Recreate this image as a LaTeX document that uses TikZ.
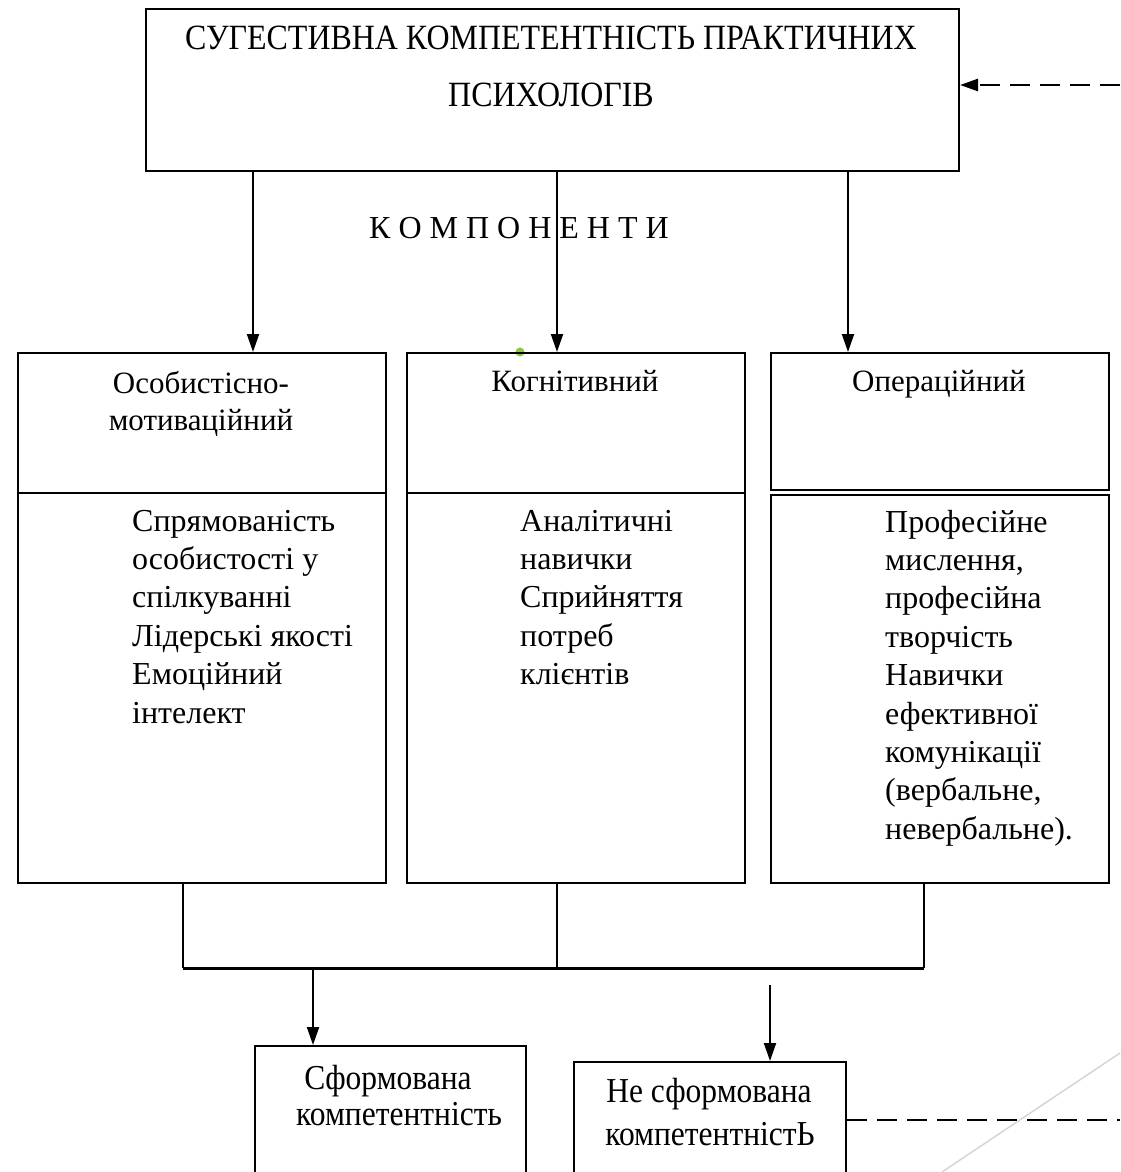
\documentclass[tikz,border=0pt]{standalone}
\usepackage{fontspec}
\setmainfont{Liberation Serif}
\newfontfamily\condfont[FakeStretch=0.9]{Liberation Serif}
\usetikzlibrary{arrows.meta}
\definecolor{dotgreen}{HTML}{8DC63F}
\definecolor{diag}{HTML}{D3D3D3}
\begin{document}
\begin{tikzpicture}[x=1pt,y=-1pt,
  box/.style={draw, line width=2pt, inner sep=0pt, anchor=north west},
  conn/.style={line width=2pt},
  bus/.style={line width=3pt},
  tip/.style={-{Triangle[length=18pt,width=12pt]}},
  arr/.style={line width=2pt, tip},
  dsh/.style={line width=2.6pt, dash pattern=on 20pt off 10pt},
  bodytxt/.style={font=\fontsize{32}{38.4}\selectfont, inner sep=0pt, anchor=base west},
  headtxt/.style={font=\fontsize{31}{37}\selectfont, inner sep=0pt, anchor=base},
  titletxt/.style={font=\condfont\fontsize{35.5}{58}\selectfont, inner sep=0pt, anchor=base},
  condtxt/.style={font=\condfont\fontsize{35}{40}\selectfont, inner sep=0pt, anchor=base}]
\useasboundingbox (0,0) rectangle (1120,1172);

% small green mark behind the middle box
\fill[dotgreen] (520,352) circle (4.5pt);

% top box
\node[box, minimum width=813pt, minimum height=162pt] (top) at (145,8) {};
\node[titletxt] (title) at (551,49) {\begin{tabular}[t]{@{}c@{}}СУГЕСТИВНА КОМПЕТЕНТНІСТЬ ПРАКТИЧНИХ\\ ПСИХОЛОГІВ\end{tabular}};

% label
\node[font=\fontsize{32}{36}\selectfont, inner sep=0pt, anchor=base] (komp) at (519,238) {К О М П О Н Е Н Т И};

% component boxes
\node[box, minimum width=368pt, minimum height=140pt] (h1) at (17,352) {};
\node[box, minimum width=368pt, minimum height=390pt] (b1) at (17,492) {};
\node[box, minimum width=338pt, minimum height=140pt] (h2) at (406,352) {};
\node[box, minimum width=338pt, minimum height=390pt] (b2) at (406,492) {};
\node[box, minimum width=338pt, minimum height=137pt] (h3) at (770,352) {};
\node[box, minimum width=338pt, minimum height=388pt] (b3) at (770,494) {};

\node[headtxt] (t1) at (201,393) {\begin{tabular}[t]{@{}c@{}}Особистісно-\\мотиваційний\end{tabular}};
\node[headtxt] (t2) at (575,391) {Когнітивний};
\node[headtxt] (t3) at (939,391) {Операційний};

\node[bodytxt] (c1) at (132,531) {\begin{tabular}[t]{@{}l@{}}Спрямованість\\особистості у\\спілкуванні\\Лідерські якості\\Емоційний\\інтелект\end{tabular}};
\node[bodytxt] (c2) at (520,531) {\begin{tabular}[t]{@{}l@{}}Аналітичні\\навички\\Сприйняття\\потреб\\клієнтів\end{tabular}};
\node[bodytxt] (c3) at (885,532) {\begin{tabular}[t]{@{}l@{}}Професійне\\мислення,\\професійна\\творчість\\Навички\\ефективної\\комунікації\\(вербальне,\\невербальне).\end{tabular}};

% arrows from top box
\coordinate (xa) at (253,0);
\coordinate (xb) at (557,0);
\coordinate (xc) at (848,0);
\draw[arr] (top.south -| xa) -- (h1.north -| xa);
\draw[arr] (top.south -| xb) -- (h2.north -| xb);
\draw[arr] (top.south -| xc) -- (h3.north -| xc);

% bottom boxes
\node[box, minimum width=271pt, minimum height=140pt] (f1) at (254,1045) {};
\node[box, minimum width=272pt, minimum height=130pt] (f2) at (573,1061) {};
\node[condtxt] (f1a) at (388,1089) {Сформована};
\node[condtxt] (f1b) at (399,1125) {компетентність};
\node[condtxt] (f2a) at (709,1102) {Не сформована};
\node[condtxt] (f2b) at (710,1145) {компетентністЬ};

% collecting lines
\coordinate (busL) at (183,968);
\coordinate (busR) at (924,968);
\coordinate (busM) at (557,968);
\draw[conn] (b1.south -| busL) -- (busL);
\draw[conn] (b2.south -| busM) -- (busM);
\draw[conn] (b3.south -| busR) -- (busR);
\draw[bus] (busL) -- (busR);
\coordinate (d1) at (313,968);
\draw[arr] (d1) -- (f1.north -| d1);
\coordinate (d2) at (770,985);
\draw[arr] (d2) -- (f2.north -| d2);

% dashed feedback
\coordinate (fbTop) at (1120,85);
\draw[dsh, tip] (fbTop) -- (top.east |- fbTop);
\coordinate (fbBot) at (1120,1120);
\draw[dsh] (f2.east |- fbBot) -- (fbBot);

% light diagonal line
\draw[diag, line width=1.4pt] (942,1172) -- (1120,1053);
\end{tikzpicture}
\end{document}
